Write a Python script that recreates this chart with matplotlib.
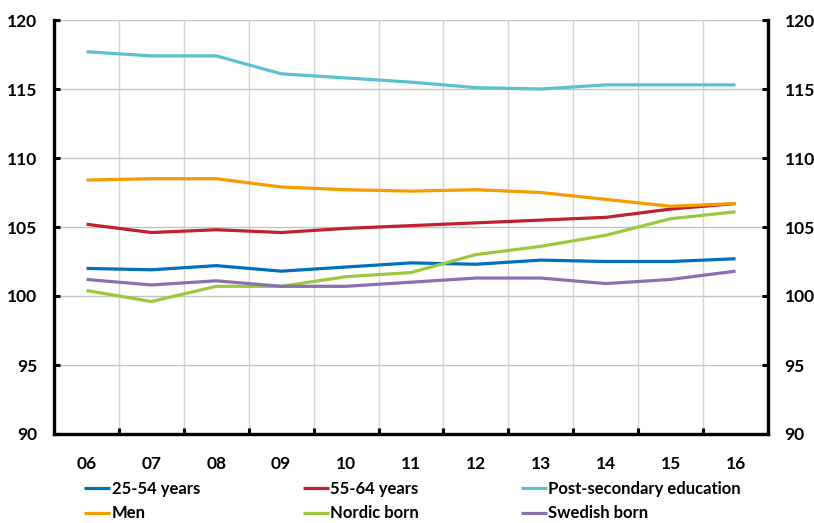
import numpy as np
import matplotlib
matplotlib.use("Agg")
import matplotlib.pyplot as plt
from matplotlib.ticker import FixedLocator

plt.rcParams["font.family"] = ["Lato", "DejaVu Sans"]

years = ["06", "07", "08", "09", "10", "11", "12", "13", "14", "15", "16"]

age_25_54 = [102.0, 101.9, 102.2, 101.8, 102.1, 102.4, 102.3, 102.6, 102.5, 102.5, 102.7]
age_55_64 = [105.2, 104.6, 104.8, 104.6, 104.9, 105.1, 105.3, 105.5, 105.7, 106.3, 106.7]
post_secondary = [117.7, 117.4, 117.4, 116.1, 115.8, 115.5, 115.1, 115.0, 115.3, 115.3, 115.3]
men = [108.4, 108.5, 108.5, 107.9, 107.7, 107.6, 107.7, 107.5, 107.0, 106.5, 106.7]
nordic_born = [100.4, 99.6, 100.7, 100.7, 101.4, 101.7, 103.0, 103.6, 104.4, 105.6, 106.1]
swedish_born = [101.2, 100.8, 101.1, 100.7, 100.7, 101.0, 101.3, 101.3, 100.9, 101.2, 101.8]

series = [
    ("25-54 years", age_25_54, "#0070C0"),
    ("55-64 years", age_55_64, "#C0202F"),
    ("Post-secondary education", post_secondary, "#5BC0CF"),
    ("Men", men, "#F59C00"),
    ("Nordic born", nordic_born, "#9BC83C"),
    ("Swedish born", swedish_born, "#8B6FB0"),
]

W, H = 814, 523
fig = plt.figure(figsize=(W / 100, H / 100), dpi=100)
ax = fig.add_axes([54 / W, 1 - 434 / H, (768 - 54) / W, (434 - 20) / H])

x = np.arange(len(years))
handles = []
for label, vals, color in series:
    (ln,) = ax.plot(x, vals, color=color, lw=2.3, label=label, solid_capstyle="butt")
    handles.append(ln)

ax.set_xlim(-0.5, len(years) - 0.5)
ax.set_ylim(90, 120)
ax.set_yticks(np.arange(90, 121, 5))
ax.set_xticks(x)
ax.set_xticklabels(years)
ax.xaxis.set_minor_locator(FixedLocator(np.arange(0.5, len(years) - 0.5, 1)))

ax.grid(axis="y", color="#C4C4C4", lw=1.0)
ax.grid(axis="x", which="minor", color="#D4D4D4", lw=1.0)
ax.set_axisbelow(True)

for side in ["left", "right", "bottom"]:
    ax.spines[side].set_linewidth(2.4)
    ax.spines[side].set_color("black")
ax.spines["top"].set_visible(False)

ax.tick_params(axis="y", which="major", direction="in", length=4, width=2.2,
               left=True, right=True, labelleft=True, labelright=True,
               pad=12, labelsize=12.5)
ax.tick_params(axis="x", which="major", length=0, pad=16, labelsize=12.5)
ax.tick_params(axis="x", which="minor", direction="in", length=4, width=2.2)
for lbl in ax.get_xticklabels():
    lbl.set_fontweight("bold")
for t in ax.yaxis.get_major_ticks():
    t.label1.set_fontweight("bold")
    t.label2.set_fontweight("bold")

# legend: three columns, two rows each
cols = [(handles[0], handles[3]), (handles[1], handles[4]), (handles[2], handles[5])]
col_x = [84, 303, 521]
for (h1, h2), cx in zip(cols, col_x):
    fig.legend([h1, h2], [h1.get_label(), h2.get_label()],
               loc="upper left", bbox_to_anchor=(cx / W, 1 - 481 / H),
               frameon=False, handlelength=1.55, handletextpad=0.1,
               labelspacing=0.5, borderaxespad=0, borderpad=0,
               prop={"size": 12, "weight": "bold"})

fig.savefig("out.png", dpi=100)
